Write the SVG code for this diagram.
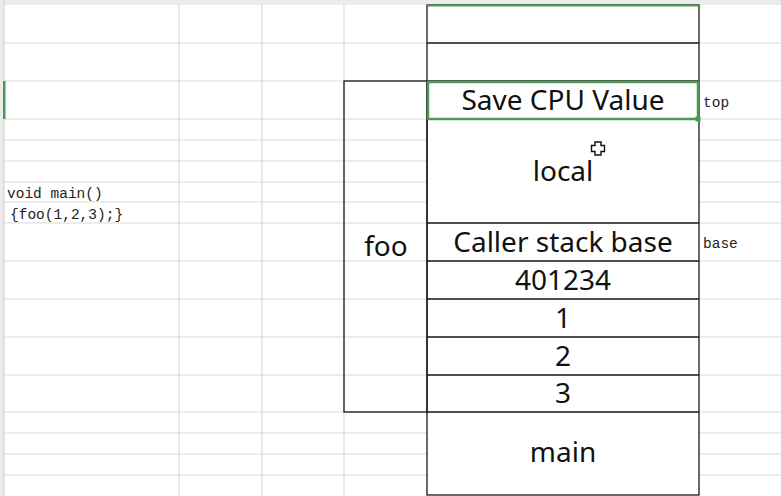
<svg xmlns="http://www.w3.org/2000/svg" width="781" height="496" viewBox="0 0 781 496">
<style>
.grid{stroke:#dadada;stroke-width:1.2;fill:none}
.bk{stroke:#1a1a1a;stroke-width:1.3;fill:none}
.cell{font-family:"Noto Sans","Open Sans",sans-serif;font-size:28px;fill:#111;text-anchor:middle}
.code{font-family:"Liberation Mono","DejaVu Sans Mono",monospace;font-size:14.5px;fill:#222}
</style>
<rect x="0" y="0" width="781" height="496" fill="#ffffff"/>
<rect x="0" y="0" width="781" height="5" fill="#ececec"/>
<rect x="0" y="0" width="4" height="496" fill="#ececec"/>
<line x1="4" y1="0" x2="4" y2="496" stroke="#d0d0d0" stroke-width="1"/>
<g id="gridlines">
<path class="grid" d="M4 43H781M4 81H781M4 119H781M4 140H427M699 140H781M4 161H427M699 161H781M4 182H427M699 182H781M4 202H427M699 202H781M4 223H781M4 261H781M4 299H781M4 337H781M4 375H781M4 412H781M4 433H427M699 433H781M4 454H427M699 454H781M4 475H427M699 475H781"/>
<path class="grid" d="M179 5V496M262 5V496M344 5V496"/>
</g>
<rect x="3" y="81" width="2.5" height="38" fill="#4a9a55"/>
<g id="foo">
<rect x="344" y="81" width="83" height="331" fill="#ffffff" class="bk"/>
<text class="cell" x="386" y="256">foo</text>
</g>
<g id="stack">
<rect x="427" y="5" width="272" height="490" fill="#ffffff" class="bk"/>
<path class="bk" d="M427 43H699M427 81H699M427 119H699M427 223H699M427 261H699M427 299H699M427 337H699M427 375H699M427 412H699"/>
<line x1="427" y1="5.5" x2="699" y2="5.5" stroke="#4a9a55" stroke-width="2"/>
</g>
<g id="save-cpu">
<rect x="428" y="82" width="270" height="37" fill="#ffffff" stroke="#4a9a55" stroke-width="2.5"/>
<rect x="695.5" y="116.5" width="5" height="5" fill="#4a9a55"/>
<text class="cell" x="563" y="110">Save CPU Value</text>
</g>
<g id="local"><text class="cell" x="563" y="181">local</text></g>
<g id="caller"><text class="cell" x="563" y="252">Caller stack base</text></g>
<g id="ret"><text class="cell" x="563" y="290">401234</text></g>
<g id="arg1"><text class="cell" x="563" y="328">1</text></g>
<g id="arg2"><text class="cell" x="563" y="366">2</text></g>
<g id="arg3"><text class="cell" x="563" y="403">3</text></g>
<g id="main"><text class="cell" x="563" y="462">main</text></g>
<g id="labels">
<text class="code" x="703" y="107">top</text>
<text class="code" x="703" y="248">base</text>
<text class="code" x="7" y="198">void main()</text>
<text class="code" x="10" y="219">{foo(1,2,3);}</text>
</g>
<path d="M595 142h6v3.5h3.5v6h-3.5v3.5h-6v-3.5h-3.5v-6h3.5z" fill="#ffffff" stroke="#111" stroke-width="1.4"/>
</svg>
